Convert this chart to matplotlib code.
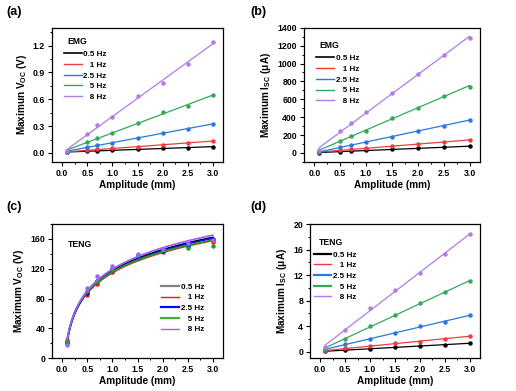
import numpy as np
import matplotlib
matplotlib.use("Agg")
import matplotlib.pyplot as plt
from matplotlib.lines import Line2D
from matplotlib.ticker import AutoMinorLocator, MultipleLocator, FormatStrFormatter

plt.rcParams["font.family"] = ["Liberation Sans", "DejaVu Sans"]
plt.rcParams["font.weight"] = "bold"
plt.rcParams["mathtext.fontset"] = "custom"
plt.rcParams["mathtext.rm"] = "Liberation Sans:bold"
plt.rcParams["mathtext.it"] = "Liberation Sans:bold"
plt.rcParams["mathtext.bf"] = "Liberation Sans:bold"

# ───────────── data ─────────────
freqs = ["0.5 Hz", "1 Hz", "2.5 Hz", "5 Hz", "8 Hz"]
labels = ["0.5 Hz", "   1 Hz", "2.5 Hz", "   5 Hz", "   8 Hz"]

amp = [0.1, 0.5, 0.7, 1.0, 1.5, 2.0, 2.5, 3.0]
amp_d = [0.1, 0.5, 1.0, 1.5, 2.0, 2.5, 3.0]

emg_voc = {
    "0.5 Hz": [0.01, 0.02, 0.022, 0.03, 0.04, 0.05, 0.06, 0.07],
    "1 Hz": [0.01, 0.03, 0.04, 0.05, 0.07, 0.09, 0.11, 0.135],
    "2.5 Hz": [0.015, 0.065, 0.085, 0.115, 0.17, 0.22, 0.27, 0.325],
    "5 Hz": [0.02, 0.12, 0.165, 0.225, 0.34, 0.455, 0.52, 0.645],
    "8 Hz": [0.02, 0.21, 0.31, 0.40, 0.64, 0.78, 1.00, 1.24],
}
emg_isc = {
    "0.5 Hz": [3, 15, 20, 28, 40, 52, 62, 75],
    "1 Hz": [5, 30, 40, 55, 75, 100, 120, 145],
    "2.5 Hz": [10, 65, 88, 120, 180, 245, 305, 370],
    "5 Hz": [20, 135, 190, 250, 390, 505, 640, 740],
    "8 Hz": [30, 245, 330, 455, 665, 880, 1100, 1285],
}
teng_voc = {
    "0.5 Hz": [22, 88, 104, 120, 137, 146, 153, 159],
    "1 Hz": [25, 85, 99, 116, 135, 142, 150, 156],
    "2.5 Hz": [21, 88, 103, 118, 134, 144, 151, 160],
    "5 Hz": [22, 90, 104, 119, 138, 145, 148, 151],
    "8 Hz": [18, 94, 110, 124, 140, 147, 155, 158],
}
teng_isc = {
    "0.5 Hz": [0.1, 0.25, 0.45, 0.7, 0.9, 1.1, 1.35],
    "1 Hz": [0.15, 0.55, 0.9, 1.3, 1.6, 2.0, 2.5],
    "2.5 Hz": [0.3, 1.2, 2.0, 3.0, 4.0, 4.7, 5.7],
    "5 Hz": [0.5, 2.0, 4.1, 5.7, 7.6, 9.3, 11.1],
    "8 Hz": [0.8, 3.4, 6.8, 9.6, 12.3, 15.3, 18.5],
}

cols_soft = ["#000000", "#f03c3c", "#2a78e0", "#36a85a", "#b07ce6"]
cols_c = ["#000000", "#ff1010", "#0010ff", "#20a020", "#a060ff"]
leg_c = ["#808080", "#ff1010", "#0010ff", "#40b040", "#a060ff"]

LABEL_FS = 7.2


def style_axis(ax, ylim, ymajor):
    ax.set_xlim(-0.2, 3.2)
    ax.set_ylim(*ylim)
    ax.xaxis.set_major_locator(MultipleLocator(0.5))
    ax.xaxis.set_minor_locator(AutoMinorLocator(2))
    ax.yaxis.set_major_locator(MultipleLocator(ymajor))
    ax.yaxis.set_minor_locator(AutoMinorLocator(2))
    ax.tick_params(which="major", direction="out", length=3, width=0.8, labelsize=6.3, pad=2)
    ax.tick_params(which="minor", direction="out", length=1.6, width=0.7)
    for s in ax.spines.values():
        s.set_linewidth(0.9)
    ax.set_xlabel("Amplitude (mm)", fontsize=LABEL_FS, fontweight="bold", labelpad=1.5)


def linear_panel(ax, xs, data, cols):
    xf = np.linspace(min(xs), max(xs), 50)
    for f, c in zip(freqs, cols):
        y = np.array(data[f])
        k, b = np.polyfit(xs, y, 1)
        ax.plot(xf, k * xf + b, color=c, lw=0.9)
        ax.plot(xs, y, "o", color=c, ms=2.2)


fig = plt.figure(figsize=(5.16, 3.91), dpi=100)
ax_a = fig.add_axes([0.101, 0.586, 0.331, 0.343])
ax_b = fig.add_axes([0.589, 0.586, 0.341, 0.343])
ax_c = fig.add_axes([0.101, 0.084, 0.331, 0.343])
ax_d = fig.add_axes([0.601, 0.084, 0.329, 0.343])

# (a)
linear_panel(ax_a, amp, emg_voc, cols_soft)
style_axis(ax_a, (-0.1, 1.4), 0.3)
ax_a.yaxis.set_major_formatter(FormatStrFormatter("%.1f"))
ax_a.set_ylabel("Maximun V$_{OC}$ (V)", fontsize=LABEL_FS, fontweight="bold", labelpad=3)

# (b)
linear_panel(ax_b, amp, emg_isc, cols_soft)
style_axis(ax_b, (-100, 1400), 200)
ax_b.set_ylabel("Maximum I$_{SC}$ (μA)", fontsize=LABEL_FS, fontweight="bold", labelpad=3)

# (c)
xf = np.linspace(0.1, 3.0, 200)
for f, c in zip(freqs, cols_c):
    y = np.array(teng_voc[f])
    b, a = np.polyfit(np.log(amp), y, 1)
    ax_c.plot(xf, a + b * np.log(xf), color=c, lw=1.2)
    ax_c.plot(amp, y, "o", color=c, ms=2.2)
style_axis(ax_c, (0, 180), 40)
ax_c.set_ylabel("Maximum V$_{OC}$ (V)", fontsize=LABEL_FS, fontweight="bold", labelpad=3)

# (d)
linear_panel(ax_d, amp_d, teng_isc, cols_soft)
style_axis(ax_d, (-1, 20), 4)
ax_d.set_ylabel("Maximum I$_{SC}$ (μA)", fontsize=LABEL_FS, fontweight="bold", labelpad=3)

# legends
def add_legend(ax, cols, loc_xy, lws):
    handles = [Line2D([], [], color=c, lw=w) for c, w in zip(cols, lws)]
    ax.legend(handles, labels, loc="upper left", bbox_to_anchor=loc_xy, frameon=False,
              fontsize=5.8, handlelength=2.2, handletextpad=0.2, labelspacing=0.38,
              borderaxespad=0, borderpad=0)

add_legend(ax_a, cols_soft, (0.07, 0.83), [1.2, 1.0, 1.0, 1.0, 1.0])
add_legend(ax_b, cols_soft, (0.07, 0.8), [1.2, 1.0, 1.0, 1.0, 1.0])
add_legend(ax_c, leg_c, (0.64, 0.56), [1.6, 1.0, 1.6, 1.6, 1.0])
add_legend(ax_d, cols_soft, (0.02, 0.8), [1.6, 1.0, 1.6, 1.6, 1.0])

ax_a.text(0.09, 0.9, "EMG", transform=ax_a.transAxes, fontsize=6.2, fontweight="bold", va="center")
ax_b.text(0.09, 0.87, "EMG", transform=ax_b.transAxes, fontsize=6.2, fontweight="bold", va="center")
ax_c.text(0.09, 0.85, "TENG", transform=ax_c.transAxes, fontsize=6.2, fontweight="bold", va="center")
ax_d.text(0.05, 0.86, "TENG", transform=ax_d.transAxes, fontsize=6.2, fontweight="bold", va="center")

for lab, x, y in [("(a)", 0.012, 0.97), ("(b)", 0.485, 0.97), ("(c)", 0.012, 0.47), ("(d)", 0.485, 0.47)]:
    fig.text(x, y, lab, fontsize=9, fontweight="bold", va="center")

fig.savefig("out.png", dpi=100)
